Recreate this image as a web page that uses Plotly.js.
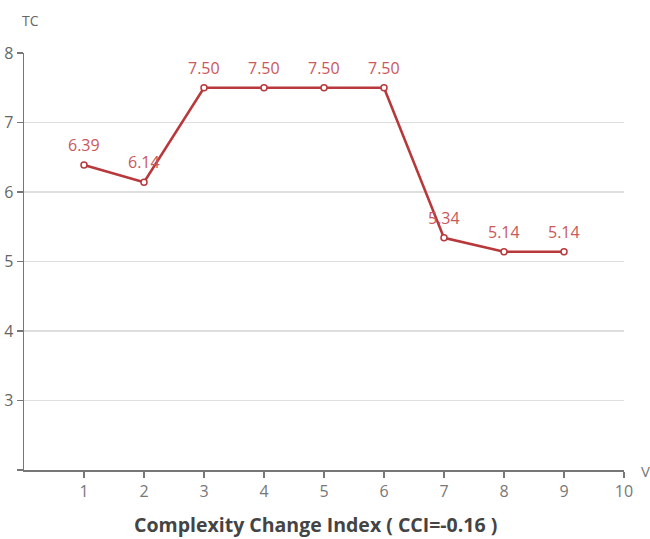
<!DOCTYPE html>
<html>
<head>
<meta charset="utf-8">
<script src="https://cdn.plot.ly/plotly-3.0.1.min.js"></script>
<style>html,body{margin:0;padding:0;background:#fff;}#chart{width:650px;height:539px;}</style>
</head>
<body>
<div id="chart"></div>
<script>
const xValues = [1, 2, 3, 4, 5, 6, 7, 8, 9];
const tcValues = [6.39, 6.14, 7.50, 7.50, 7.50, 7.50, 5.34, 5.14, 5.14];
const xTickVals = [1, 2, 3, 4, 5, 6, 7, 8, 9, 10];
const xTickText = ['1', '2', '3', '4', '5', '6', '7', '8', '9', '10'];
const yTickVals = [2, 3, 4, 5, 6, 7, 8];
const yTickText = ['', '3', '4', '5', '6', '7', '8'];
const chartTitle = 'Complexity Change Index ( CCI=-0.16 )';
const yName = 'TC';
const xName = 'V';

const font = '"Open Sans", "Noto Sans", sans-serif';

const trace = {
  x: xValues,
  y: tcValues,
  type: 'scatter',
  mode: 'lines+markers',
  line: {color: '#b8393b', width: 2.6},
  marker: {size: 6, color: '#ffffff', line: {color: '#b8393b', width: 1.5}},
  cliponaxis: false,
  hoverinfo: 'none'
};

const valueLabels = xValues.map((x, i) => ({
  text: tcValues[i].toFixed(2),
  x: x, y: tcValues[i], xref: 'x', yref: 'y',
  yshift: 20, showarrow: false, xanchor: 'center', yanchor: 'middle',
  font: {family: font, size: 16, color: '#c9585b'}
}));

const layout = {
  width: 650, height: 539,
  margin: {l: 24, r: 26, t: 53, b: 69},
  paper_bgcolor: '#fff', plot_bgcolor: '#fff',
  showlegend: false,
  font: {family: font, color: '#666'},
  xaxis: {
    range: [0, 10],
    tickvals: xTickVals, ticktext: xTickText,
    showgrid: false, zeroline: false,
    showline: true, linecolor: '#777', linewidth: 1.5,
    ticks: 'outside', ticklen: 6, tickcolor: '#777', tickwidth: 1.5,
    tickfont: {family: font, size: 16, color: '#777'},
    fixedrange: true
  },
  yaxis: {
    range: [2, 8],
    tickvals: yTickVals, ticktext: yTickText,
    showgrid: true, gridcolor: '#dedede', gridwidth: 1.5,
    zeroline: false,
    showline: true, linecolor: '#777', linewidth: 1.5,
    ticks: 'outside', ticklen: 6, tickcolor: '#777', tickwidth: 1.5,
    tickfont: {family: font, size: 16, color: '#666'},
    fixedrange: true
  },
  annotations: valueLabels.concat([
    {text: yName, xref: 'paper', yref: 'paper', x: 0.01, y: 1, yshift: 33, xanchor: 'center', yanchor: 'middle', showarrow: false, font: {family: font, size: 14, color: '#666'}},
    {text: xName, xref: 'paper', yref: 'paper', x: 1, xshift: 15, y: 0, yshift: -1, xanchor: 'left', yanchor: 'middle', showarrow: false, font: {family: font, size: 15, color: '#777'}},
    {text: '<b>' + chartTitle + '</b>', xref: 'paper', yref: 'paper', x: 0.485, y: 0, yshift: -54, xanchor: 'center', yanchor: 'middle', showarrow: false, font: {family: font, size: 19.5, color: '#444'}}
  ])
};

Plotly.newPlot('chart', [trace], layout, {displayModeBar: false, staticPlot: true});
</script>
</body>
</html>
